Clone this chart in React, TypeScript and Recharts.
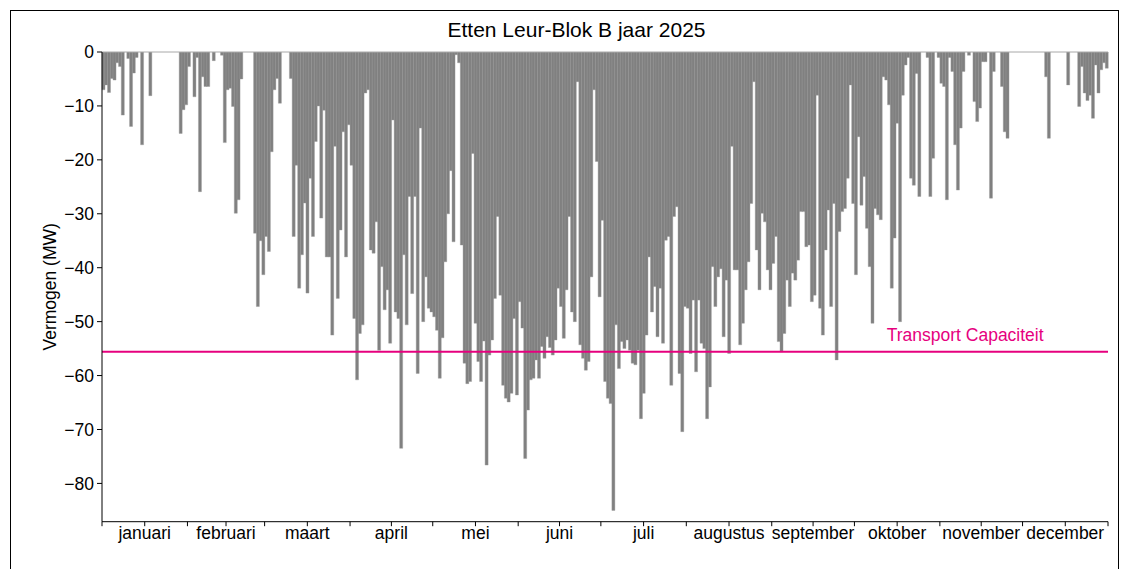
import React from "react";
import { BarChart, Bar, XAxis, YAxis, ReferenceLine } from "recharts";

// dagelijkse minima (MW), per maand
const jan = [-7, -6.1, -7.5, -4.9, -5.2, -2, -2.7, -11.7, 0, -1.2, -13.8, -3.9, -1, 0, -17.2, 0, 0, -8.1, 0, 0, 0, 0, 0, 0, 0, 0, 0, 0, -15.1, -10.7, -9.8];
const feb = [-2.7, 0, -8.3, -1, -25.9, -4.6, -6.4, -6.4, 0, -1.6, 0, 0, -0.6, -16.8, -7, -6.7, -10.1, -29.9, -27.4, -5, 0, 0, 0, 0, -33.6, -47.2, -35, -41.3];
const mar = [-34.2, -37, -18.5, -7, -4.9, -9.5, 0, 0, 0, -4.9, -34.2, -21, -43.8, -37.6, -28, -44.7, -23.4, -34.2, -16.6, -10, -30.8, -10.8, -38, -38, -52.5, -17.5, -45.7, -33, -14.8, -38, -13.5];
const apr = [-21, -49.4, -60.8, -52.2, -50.6, -7.6, -7, -36.7, -37.3, -31.5, -55.3, -39.8, -47.8, -44.1, -54, -12.6, -48.2, -49.4, -73.5, -37.6, -50.6, -26.8, -44.8, -26.8, -59.6, -14.1, -50, -41.7, -47.5, -48.2];
const may = [-49.1, -51.6, -60.5, -53, -38.9, -30, -22, -35.2, -0.5, -2, -35.8, -57.7, -61.5, -61.1, -18.8, -50.3, -57.4, -61.1, -53.6, -76.6, -56.2, -53.4, -45.7, -30.5, -45.1, -61.8, -64.2, -64.9, -63.3, -49.4, -63.6];
const jun = [-46.3, -51.2, -75.4, -66.4, -60.8, -60.5, -57.1, -60.5, -54.6, -56.8, -52.8, -54.8, -56.2, -53.4, -43.8, -47.2, -53.1, -44.1, -30.5, -48.2, -50, -5.5, -54.3, -56.8, -59, -57.4, -41.7, -7, -20.3, -45.4];
const jul = [-31.2, -61.1, -64.2, -65.2, -85, -50.6, -58.7, -53.7, -55, -53.4, -55.3, -57.7, -58, -55.3, -68, -63.3, -52.5, -38, -48.2, -43.5, -52.8, -43.8, -54, -34.9, -34.2, -61.8, -30.5, -28.7, -59.6, -70.4, -47.2];
const aug = [-47.5, -55.9, -46, -59.3, -46, -54, -55, -68, -62.1, -39.8, -47.2, -41.7, -40.2, -52.8, -42.3, -55.9, -17.5, -40.4, -40.4, -54.3, -50.3, -44.1, -38.9, -28.1, -5.5, -36.7, -44.1, -29.9, -31.5, -40.4, -44.1];
const sep = [-39.2, -34.2, -53.7, -55.6, -52.2, -42.3, -47.2, -41, -42.3, -38.6, -29.6, -29.6, -36.1, -35.8, -46.3, -45.1, -8, -47.5, -52.5, -36.7, -29.3, -47.2, -28.1, -57.1, -33.3, -29.6, -29, -23.4, -6.1, -28.1];
const oct = [-41.3, -15.7, -28.4, -23.1, -32.7, -39.8, -50.3, -29, -30.2, -31.1, -4.6, -5.2, -9.8, -43.8, -34.5, -13.2, -50, -8, -2.4, -1, -23.4, -24.7, -4, -26.8, 0, 0, -1, -26.8, -19.7, 0, -1];
const nov = [-5.8, -6.4, -27.4, -1, -3.6, -17.2, -25.6, -14.1, -3.6, 0, -0.6, 0, -9.2, -12.9, -10.4, -1.8, -1.8, 0, -27.1, -3.6, 0, 0, -6.4, -14.8, -16, 0, 0, 0, 0, 0];
const dec = [0, 0, 0, 0, 0, 0, 0, 0, -4.6, -16, 0, 0, 0, 0, 0, 0, -6.1, 0, 0, 0, -10.1, -2.7, -7.6, -9, -8, -12.3, -2.4, -7.6, -3.3, -2, -3];

const monthLabels = ["januari", "februari", "maart", "april", "mei", "juni", "juli", "augustus", "september", "oktober", "november", "december"];
const yTicks = [0, -10, -20, -30, -40, -50, -60, -70, -80];
const transportCapaciteit = -55.6;

const months = [jan, feb, mar, apr, may, jun, jul, aug, sep, oct, nov, dec];
const data = months.flat().map((mw, i) => ({ day: i, mw }));

// maandgrenzen en maandmidden (in dagen)
const monthStarts: number[] = [];
const monthMids: number[] = [];
let acc = 0;
months.forEach((m) => {
  monthStarts.push(acc);
  monthMids.push(acc + m.length / 2);
  acc += m.length;
});
monthStarts.push(acc);
const xTicks = [...monthStarts, ...monthMids].sort((a, b) => a - b);

const FONT = '"Liberation Sans", Arial, sans-serif';
const MAGENTA = "#e6007e";

const MonthTick = (props: any) => {
  const { x, y, payload } = props;
  const mid = monthMids.indexOf(payload.value);
  return (
    <g>
      <line x1={x} x2={x} y1={y} y2={y + 4.5} stroke="#000" strokeWidth={1} />
      {mid >= 0 && (
        <text x={x} y={y + 17} textAnchor="middle" fontSize={17.5} fill="#000" fontFamily={FONT}>
          {monthLabels[mid]}
        </text>
      )}
    </g>
  );
};

const fmt = (v: number) => (v < 0 ? "\u2212" + Math.abs(v) : String(v));

export default function App() {
  return (
    <div
      style={{
        position: "absolute",
        left: 0,
        top: 0,
        width: 1130,
        height: 569,
        overflow: "hidden",
        background: "#fff",
        fontFamily: FONT,
      }}
    >
      <div
        style={{
          position: "absolute",
          left: 10,
          top: 10,
          width: 1109,
          height: 600,
          border: "1px solid #000",
          boxSizing: "border-box",
        }}
      />
      <div
        style={{
          position: "absolute",
          left: 0,
          top: 18,
          width: 1153,
          textAlign: "center",
          fontSize: 21,
          color: "#000",
        }}
      >
        Etten Leur-Blok B jaar 2025
      </div>
      <div style={{ position: "absolute", left: 0, top: 0 }}>
        <BarChart
          width={1130}
          height={569}
          data={data}
          margin={{ top: 52, right: 22, left: 0, bottom: 0 }}
          barCategoryGap={0}
          barGap={0}
        >
          <XAxis xAxisId="d" dataKey="day" type="category" hide height={0} />
          <XAxis
            xAxisId="m"
            dataKey="day"
            type="number"
            domain={[0, 365]}
            ticks={xTicks}
            interval={0}
            allowDataOverflow
            height={47.3}
            tickSize={0}
            tickMargin={0}
            tickLine={false}
            tick={<MonthTick />}
            axisLine={{ stroke: "#000", strokeWidth: 1 }}
          />
          <YAxis
            type="number"
            domain={[-87.1, 0]}
            ticks={yTicks}
            interval={0}
            allowDataOverflow
            width={102}
            tickFormatter={fmt}
            tickSize={5}
            tickMargin={3}
            tick={{ fill: "#000", fontSize: 17.5, fontFamily: FONT }}
            tickLine={{ stroke: "#000" }}
            axisLine={{ stroke: "#000", strokeWidth: 1 }}
            label={{
              content: (p: any) => {
                const vb = p.viewBox || { x: 0, y: 52, width: 102, height: 470 };
                const cx = vb.x + 50;
                const cy = vb.y + vb.height / 2;
                return (
                  <text
                    x={cx}
                    y={cy}
                    transform={`rotate(-90 ${cx} ${cy})`}
                    textAnchor="middle"
                    dominantBaseline="central"
                    fontSize={17.5}
                    fill="#000"
                    fontFamily={FONT}
                  >
                    Vermogen (MW)
                  </text>
                );
              },
            }}
          />
          <ReferenceLine xAxisId="d" y={0} stroke="#a8a8a8" strokeWidth={1} />
          <Bar xAxisId="d" dataKey="mw" fill="#808080" stroke="#9a9a9a" strokeWidth={0.4} isAnimationActive={false} />
          <ReferenceLine
            xAxisId="d"
            y={transportCapaciteit}
            stroke={MAGENTA}
            strokeWidth={2}
            label={{
              content: (p: any) => {
                const vb = p.viewBox || { x: 102, y: 352, width: 1006 };
                return (
                  <text
                    x={vb.x + vb.width * 0.858}
                    y={vb.y - 11}
                    textAnchor="middle"
                    fontSize={17.5}
                    fill={MAGENTA}
                    fontFamily={FONT}
                  >
                    Transport Capaciteit
                  </text>
                );
              },
            }}
          />
        </BarChart>
      </div>
    </div>
  );
}
